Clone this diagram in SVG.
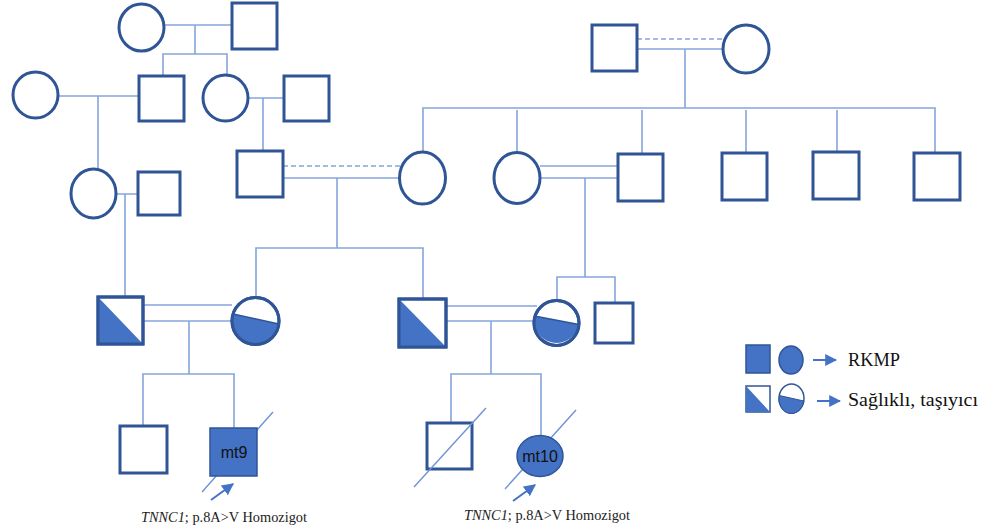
<svg xmlns="http://www.w3.org/2000/svg" width="989" height="530" viewBox="0 0 989 530">
<defs>
<style>
.n{fill:#fff;stroke:#2F5597;stroke-width:3}
.f{fill:#4472C4;stroke:#2F5597;stroke-width:1.5}
.cf{fill:#4472C4;stroke:none}
.c{fill:none;stroke:#85A5DD;stroke-width:1.6}
.d{fill:none;stroke:#85A5DD;stroke-width:1.6;stroke-dasharray:5 3}
.s{fill:none;stroke:#6F93D6;stroke-width:1.4}
.a{fill:none;stroke:#4472C4;stroke-width:2}
.lbl{font-family:"Liberation Sans",Arial,sans-serif;font-size:16px;fill:#111}
.cap{font-family:"Liberation Serif","Times New Roman",serif;font-size:15px;fill:#222}
.leg{font-family:"Liberation Serif","Times New Roman",serif;font-size:18px;fill:#111}
</style>
<marker id="ah" viewBox="0 0 10 10" refX="9" refY="5" markerWidth="12" markerHeight="12" markerUnits="userSpaceOnUse" orient="auto">
<path d="M0,0 L10,5 L0,10 Z" fill="#4472C4"/>
</marker>
</defs>

<g id="connectors">
<path class="c" d="M164,25 H232 M195,25 V54 M163,76 V54 H227 V75"/>
<path class="c" d="M58,96 H142 M98,96 V168"/>
<path class="c" d="M248,98 H284 M263,98 V151"/>
<path class="c" d="M116,194 H138 M125,194 V297"/>
<path class="d" d="M283,166 H400"/>
<path class="c" d="M283,178 H399 M337,178 V248 M256,298 V248 H423 V299"/>
<path class="d" d="M637,39 H723"/>
<path class="c" d="M637,49 H723 M685,49 V108 M423,152 V108 H935 V153 M517,110 V152 M642,110 V154 M746,110 V153 M837,110 V152"/>
<path class="c" d="M540,166 H618 M540,178 H618 M585,178 V277 M557,301 V277 H615 V303"/>
<path class="c" d="M143,305 H232 M143,321 H232 M189,321 V374 M143,426 V374 H234 V428"/>
<path class="c" d="M446,306 H537 M446,321 H537 M491,321 V374 M451,423 V374 H541 V436"/>
<path class="s" d="M202,492 L273,412"/>
<path class="s" d="M505,489 L576,410"/>
</g>

<g id="I1"><ellipse class="n" cx="141.5" cy="27.5" rx="22.5" ry="23.5"/></g>
<g id="I2"><rect class="n" x="232" y="3" width="45" height="46"/></g>
<g id="I3"><rect class="n" x="592" y="25" width="45" height="46"/></g>
<g id="I4"><ellipse class="n" cx="746" cy="49" rx="23" ry="24"/></g>

<g id="II1"><ellipse class="n" cx="35.5" cy="95" rx="22.5" ry="23"/></g>
<g id="II2"><rect class="n" x="139" y="76" width="45" height="45"/></g>
<g id="II3"><ellipse class="n" cx="225.5" cy="98" rx="22.5" ry="23"/></g>
<g id="II4"><rect class="n" x="284" y="76" width="45" height="45"/></g>

<g id="III1"><ellipse class="n" cx="93.5" cy="193.5" rx="22.5" ry="24.5"/></g>
<g id="III2"><rect class="n" x="138" y="172" width="42" height="43"/></g>
<g id="III3"><rect class="n" x="237" y="151" width="46" height="46"/></g>
<g id="III4"><ellipse class="n" cx="422.5" cy="178" rx="23" ry="26"/></g>
<g id="III5"><ellipse class="n" cx="517" cy="178" rx="23" ry="25.5"/></g>
<g id="III6"><rect class="n" x="618" y="154" width="45" height="47"/></g>
<g id="III7"><rect class="n" x="722" y="153" width="45" height="47"/></g>
<g id="III8"><rect class="n" x="813" y="152" width="46" height="47"/></g>
<g id="III9"><rect class="n" x="914" y="153" width="46" height="47"/></g>

<g id="IV1">
<rect class="n" x="98" y="297" width="45" height="47"/>
<path class="cf" d="M98,297 L98,344 L143,344 Z"/>
<rect x="98" y="297" width="45" height="47" fill="none" stroke="#2F5597" stroke-width="3"/>
</g>
<g id="IV2">
<circle class="n" cx="255.5" cy="321" r="23.5"/>
<path class="cf" d="M233.1,314 A23.5,23.5 0 1 0 278.8,324 Z"/>
<path d="M233.1,314 L278.8,324" stroke="#2F5597" stroke-width="1.5"/>
<circle cx="255.5" cy="321" r="23.5" fill="none" stroke="#2F5597" stroke-width="3"/>
</g>
<g id="IV3">
<rect class="n" x="399" y="299" width="47" height="48"/>
<path class="cf" d="M399,299 L399,347 L446,347 Z"/>
<rect x="399" y="299" width="47" height="48" fill="none" stroke="#2F5597" stroke-width="3"/>
</g>
<g id="IV4">
<circle class="n" cx="556.5" cy="323" r="22.5"/>
<path class="cf" d="M534.3,316 A22.5,22.5 0 1 0 578.9,324.5 Z"/>
<path d="M534.3,316 L578.9,324.5" stroke="#2F5597" stroke-width="1.5"/>
<circle cx="556.5" cy="323" r="22.5" fill="none" stroke="#2F5597" stroke-width="3"/>
</g>
<g id="IV5"><rect class="n" x="595" y="303" width="38" height="40"/></g>

<g id="V1"><rect class="n" x="120" y="426" width="47" height="47"/></g>
<g id="V2">
<rect class="f" x="210" y="428" width="47" height="48"/>
<text class="lbl" x="234" y="458" text-anchor="middle">mt9</text>
</g>
<g id="V3">
<rect class="n" x="427" y="423" width="45" height="46"/>
<path class="s" d="M414,487 L486,408"/>
</g>
<g id="V4">
<ellipse class="f" cx="540" cy="456" rx="23" ry="20.5"/>
<text class="lbl" x="540" y="462" text-anchor="middle" font-size="17">mt10</text>
</g>

<g id="probands">
<path class="a" d="M211,500 L233,484" marker-end="url(#ah)"/>
<path class="a" d="M513,501 L535,485" marker-end="url(#ah)"/>
<text class="cap" x="141" y="522" textLength="166" lengthAdjust="spacingAndGlyphs"><tspan font-style="italic">TNNC1</tspan>; p.8A&gt;V Homozigot</text>
<text class="cap" x="464" y="520" textLength="166" lengthAdjust="spacingAndGlyphs"><tspan font-style="italic">TNNC1</tspan>; p.8A&gt;V Homozigot</text>
</g>

<g id="legend">
<rect class="f" x="746" y="345" width="24" height="28"/>
<ellipse class="f" cx="791" cy="360" rx="12" ry="14"/>
<path class="a" d="M813,360 L836,360" marker-end="url(#ah)"/>
<text class="leg" x="848" y="366" textLength="52" lengthAdjust="spacingAndGlyphs">RKMP</text>
<rect x="746" y="386" width="24" height="26" fill="#fff" stroke="#2F5597" stroke-width="1.5"/>
<path class="cf" d="M746,386 L746,412 L770,412 Z"/>
<ellipse cx="791.5" cy="398.5" rx="12.5" ry="14.5" fill="#fff" stroke="#2F5597" stroke-width="1.5"/>
<path d="M779.3,395.5 A12.5,14.5 0 1 0 803.8,401 Z" fill="#4472C4" stroke="#2F5597" stroke-width="1"/>
<path class="a" d="M817,401 L840,401" marker-end="url(#ah)"/>
<text class="leg" x="848" y="406" textLength="130" lengthAdjust="spacingAndGlyphs">Sağlıklı, taşıyıcı</text>
</g>
</svg>
